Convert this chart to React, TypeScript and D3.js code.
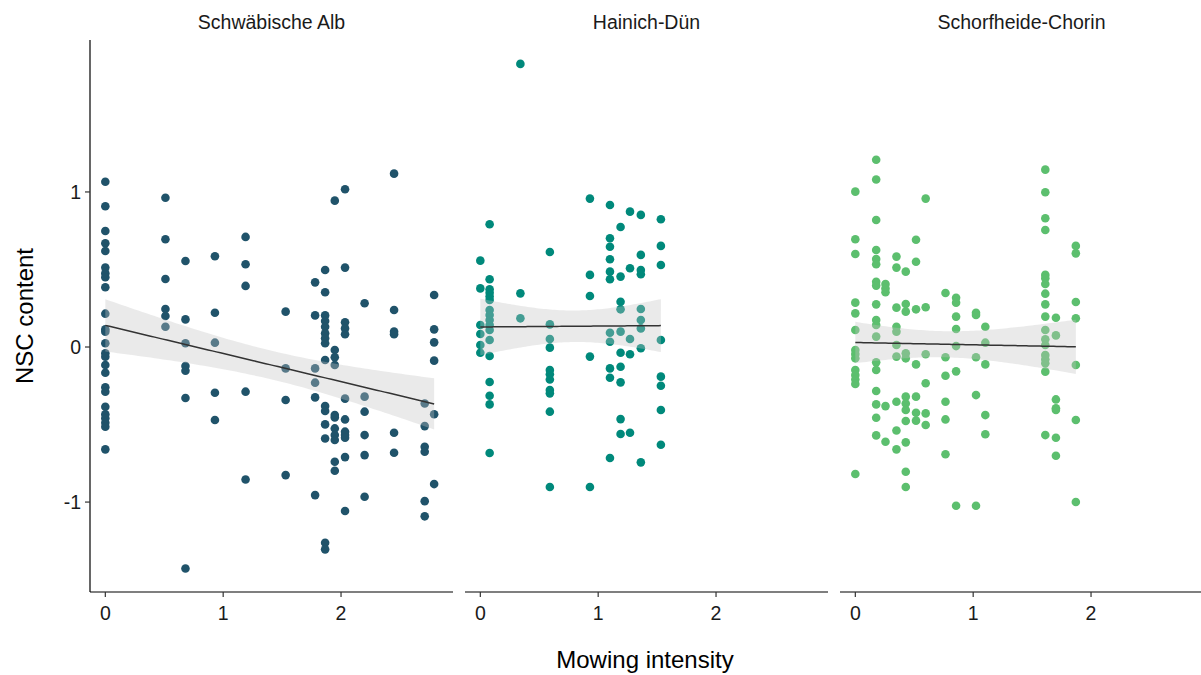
import React from "react";
import * as d3 from "d3";

const panelNames = ["Schwäbische Alb", "Hainich-Dün", "Schorfheide-Chorin"];
const panelColors = ["#20536a", "#00897b", "#5cbf6e"];
const xTicks = [0, 1, 2];
const yTicks = [-1, 0, 1];

// [mowing intensity, NSC content]
const albPoints: [number, number][] = [
  ...[1.066, 0.908, 0.748, 0.669, 0.619, 0.512, 0.475, 0.45, 0.385, 0.215, 0.114, 0.099, 0.024, -0.04, -0.063, -0.116, -0.166, -0.26, -0.288, -0.385, -0.434, -0.46, -0.488, -0.514, -0.66].map((y) => [0, y] as [number, number]),
  ...[0.963, 0.695, 0.439, 0.245, 0.2, 0.131].map((y) => [0.51, y] as [number, number]),
  ...[0.555, 0.178, 0.024, -0.123, -0.153, -0.329, -1.428].map((y) => [0.68, y] as [number, number]),
  ...[0.585, 0.221, 0.028, -0.295, -0.471].map((y) => [0.93, y] as [number, number]),
  ...[0.71, 0.534, 0.394, -0.288, -0.854].map((y) => [1.19, y] as [number, number]),
  ...[0.228, -0.138, -0.342, -0.826].map((y) => [1.53, y] as [number, number]),
  ...[0.417, 0.204, -0.138, -0.23, -0.325, -0.955].map((y) => [1.78, y] as [number, number]),
  ...[0.497, 0.353, 0.204, 0.168, 0.131, 0.088, 0.056, 0.024, -0.084, -0.381, -0.413, -0.499, -0.59, -1.262, -1.305].map((y) => [1.865, y] as [number, number]),
  ...[0.944, -0.019, -0.066, -0.116, -0.439, -0.454, -0.525, -0.568, -0.6, -0.74, -0.798].map((y) => [1.947, y] as [number, number]),
  ...[1.017, 0.512, 0.16, 0.12, 0.082, -0.333, -0.467, -0.546, -0.568, -0.585, -0.71, -1.058].map((y) => [2.034, y] as [number, number]),
  ...[0.282, -0.32, -0.417, -0.568, -0.697, -0.966].map((y) => [2.2, y] as [number, number]),
  ...[1.118, 0.239, 0.099, 0.082, -0.553, -0.682].map((y) => [2.45, y] as [number, number]),
  ...[-0.364, -0.51, -0.643, -0.675, -0.994, -1.092].map((y) => [2.71, y] as [number, number]),
  ...[0.335, 0.114, 0.03, -0.088, -0.434, -0.884].map((y) => [2.79, y] as [number, number]),
];

const haiPoints: [number, number][] = [
  ...[0.557, 0.378, 0.142, 0.084, 0.013, -0.037].map((y) => [0, y] as [number, number]),
  ...[0.792, 0.437, 0.372, 0.35, 0.325, 0.303, 0.239, 0.206, 0.174, 0.142, 0.11, 0.045, -0.058, -0.226, -0.314, -0.37, -0.684].map((y) => [0.079, y] as [number, number]),
  ...[1.826, 0.346, 0.185].map((y) => [0.34, y] as [number, number]),
  ...[0.613, 0.146, 0.052, -0.004, -0.148, -0.176, -0.209, -0.277, -0.299, -0.417, -0.903].map((y) => [0.59, y] as [number, number]),
  ...[0.957, 0.465, 0.329, -0.062, -0.903].map((y) => [0.93, y] as [number, number]),
  ...[0.916, 0.701, 0.647, 0.566, 0.486, 0.437, 0.092, 0.034, -0.138, -0.198, -0.716].map((y) => [1.1, y] as [number, number]),
  ...[0.774, 0.454, 0.292, 0.243, 0.099, -0.037, -0.127, -0.228, -0.465, -0.561].map((y) => [1.19, y] as [number, number]),
  ...[0.873, 0.508, 0.052, -0.047, -0.553].map((y) => [1.27, y] as [number, number]),
  ...[0.852, 0.594, 0.497, 0.469, 0.245, 0.174, 0.12, -0.008, -0.744].map((y) => [1.362, y] as [number, number]),
  ...[0.824, 0.652, 0.529, 0.045, -0.191, -0.25, -0.406, -0.63].map((y) => [1.532, y] as [number, number]),
];

const schPoints: [number, number][] = [
  ...[1.002, 0.695, 0.6, 0.286, 0.217, 0.11, -0.019, -0.045, -0.073, -0.148, -0.181, -0.209, -0.239, -0.819].map((y) => [0, y] as [number, number]),
  ...[1.208, 1.08, 0.819, 0.626, 0.568, 0.534, 0.421, 0.396, 0.275, 0.174, 0.142, 0.067, -0.099, -0.148, -0.284, -0.37, -0.456, -0.57].map((y) => [0.177, y] as [number, number]),
  ...[0.406, 0.378, 0.353, -0.381, -0.611].map((y) => [0.256, y] as [number, number]),
  ...[0.583, 0.512, 0.254, 0.131, 0.099, 0.013, -0.062, -0.353, -0.538, -0.66].map((y) => [0.349, y] as [number, number]),
  ...[0.486, 0.277, 0.228, -0.041, -0.073, -0.32, -0.364, -0.406, -0.477, -0.615, -0.804, -0.903].map((y) => [0.428, y] as [number, number]),
  ...[0.692, 0.55, 0.243, -0.112, -0.32, -0.424, -0.475].map((y) => [0.515, y] as [number, number]),
  ...[0.957, 0.256, -0.047, -0.234, -0.428, -0.503].map((y) => [0.597, y] as [number, number]),
  ...[0.348, -0.066, -0.185, -0.353, -0.467, -0.692].map((y) => [0.765, y] as [number, number]),
  ...[0.318, 0.286, 0.196, 0.116, 0.006, -0.157, -1.024].map((y) => [0.855, y] as [number, number]),
  ...[0.221, 0.206, -0.066, -0.31, -1.024].map((y) => [1.024, y] as [number, number]),
  ...[0.131, 0.028, -0.112, -0.439, -0.563].map((y) => [1.103, y] as [number, number]),
  ...[1.144, 0.998, 0.83, 0.755, 0.465, 0.443, 0.406, 0.344, 0.275, 0.196, 0.11, 0.05, 0.013, -0.052, -0.079, -0.105, -0.159, -0.568].map((y) => [1.612, y] as [number, number]),
  ...[0.189, 0.075, -0.338, -0.395, -0.406, -0.585, -0.701].map((y) => [1.702, y] as [number, number]),
  ...[0.652, 0.604, 0.29, 0.185, -0.116, -0.471, -1.0].map((y) => [1.871, y] as [number, number]),
];

const panelData = [albPoints, haiPoints, schPoints];

function lmFit(pts: [number, number][]) {
  const n = pts.length;
  const xbar = d3.mean(pts, (p) => p[0]) as number;
  const ybar = d3.mean(pts, (p) => p[1]) as number;
  let sxx = 0, sxy = 0;
  pts.forEach(([x, y]) => { sxx += (x - xbar) ** 2; sxy += (x - xbar) * (y - ybar); });
  const b = sxy / sxx;
  const a = ybar - b * xbar;
  let sse = 0;
  pts.forEach(([x, y]) => { sse += (y - a - b * x) ** 2; });
  const s = Math.sqrt(sse / (n - 2));
  const t = 1.98;
  const [x0, x1] = d3.extent(pts, (p) => p[0]) as [number, number];
  return d3.range(0, 81).map((i) => {
    const x = x0 + ((x1 - x0) * i) / 80;
    const yhat = a + b * x;
    const se = s * Math.sqrt(1 / n + (x - xbar) ** 2 / sxx);
    return { x, y: yhat, lo: yhat - t * se, hi: yhat + t * se };
  });
}

const W = 1201, H = 675;
const panelLeft = [90, 465, 840];
const panelW = 363;
const top = 40, bottom = 592;
const font = "'Liberation Sans', Arial, sans-serif";

export default function App() {
  const y = d3.scaleLinear().domain([-1.58, 1.98]).range([bottom, top]);
  return (
    <svg width={W} height={H} style={{ position: "absolute", left: 0, top: 0, background: "#fff" }} fontFamily={font}>
      {panelData.map((pts, pi) => {
        const x = d3.scaleLinear().domain([-0.13, 2.95]).range([panelLeft[pi], panelLeft[pi] + panelW]);
        const fit = lmFit(pts);
        const area = d3.area<any>().x((d) => x(d.x)).y0((d) => y(d.lo)).y1((d) => y(d.hi));
        const line = d3.line<any>().x((d) => x(d.x)).y((d) => y(d.y));
        return (
          <g key={pi}>
            <text x={panelLeft[pi] + panelW / 2} y={29} textAnchor="middle" fontSize={19.5} fill="#1a1a1a">{panelNames[pi]}</text>
            {pts.map((p, i) => (
              <circle key={i} cx={x(p[0])} cy={y(p[1])} r={4.3} fill={panelColors[pi]} />
            ))}
            <path d={area(fit) as string} fill="#c4c4c4" fillOpacity={0.35} />
            <path d={line(fit) as string} fill="none" stroke="#333" strokeWidth={1.5} />
            <line x1={panelLeft[pi]} x2={panelLeft[pi] + panelW} y1={bottom} y2={bottom} stroke="#000" strokeWidth={1.2} />
            {xTicks.map((t) => (
              <g key={t}>
                <line x1={x(t)} x2={x(t)} y1={bottom} y2={bottom + 5} stroke="#333" strokeWidth={1.2} />
                <text x={x(t)} y={bottom + 28} textAnchor="middle" fontSize={19.5} fill="#1a1a1a">{t}</text>
              </g>
            ))}
          </g>
        );
      })}
      <line x1={panelLeft[0]} x2={panelLeft[0]} y1={top} y2={bottom} stroke="#000" strokeWidth={1.2} />
      {yTicks.map((t) => (
        <g key={t}>
          <line x1={panelLeft[0] - 5} x2={panelLeft[0]} y1={y(t)} y2={y(t)} stroke="#333" strokeWidth={1.2} />
          <text x={panelLeft[0] - 9} y={y(t) + 7} textAnchor="end" fontSize={19.5} fill="#1a1a1a">{t}</text>
        </g>
      ))}
      <text x={645} y={668} textAnchor="middle" fontSize={24} fill="#000">Mowing intensity</text>
      <text transform={`translate(33,316) rotate(-90)`} textAnchor="middle" fontSize={24} fill="#000">NSC content</text>
    </svg>
  );
}
